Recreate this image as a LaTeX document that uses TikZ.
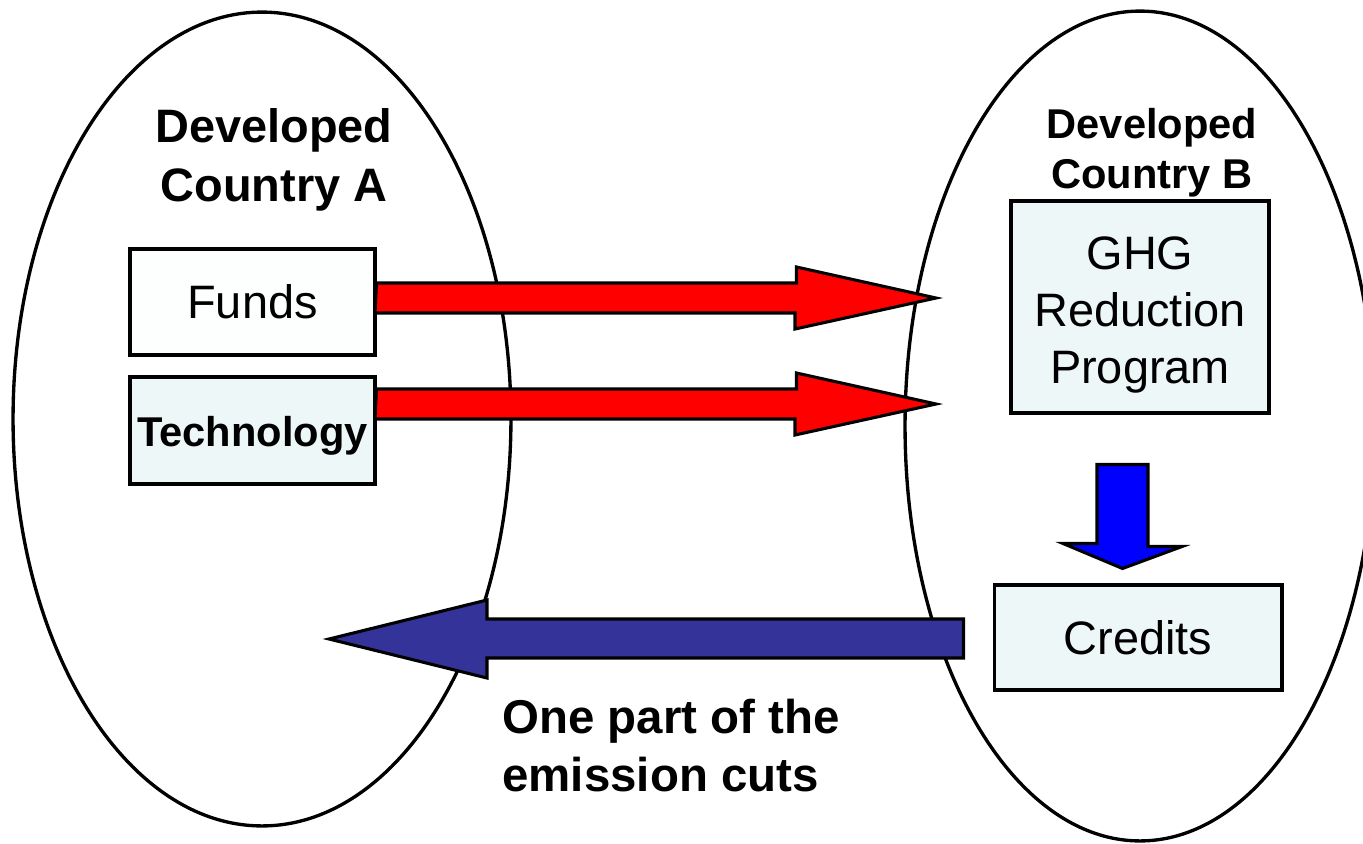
\documentclass[tikz,border=0pt]{standalone}
\usepackage{fontspec}
\setmainfont{Liberation Sans}
\usetikzlibrary{calc}
\definecolor{boxfill}{HTML}{EEF7F7}
\definecolor{whitefill}{HTML}{FDFEFE}
\definecolor{navyarrow}{HTML}{333399}
\definecolor{bluearrow}{HTML}{0000FF}
\begin{document}
\begin{tikzpicture}[x=0.02cm,y=-0.02cm,
  outline/.style={draw=black,line width=1.75pt},
  country/.style={outline,line width=1.9pt},
  box/.style={outline,fill=boxfill,inner sep=0pt,align=center,
    font=\fontsize{26.7}{32.6}\selectfont},
  boxtext/.style={inner sep=0pt,align=center,font=\fontsize{26.7}{32.6}\selectfont},
  redarrow/.style={outline,fill=red},
  navyblock/.style={outline,fill=navyarrow},
  blueblock/.style={outline,fill=bluearrow},
  title/.style={inner sep=0pt,align=center,font=\bfseries\fontsize{26.7}{33.5}\selectfont}]
\useasboundingbox (0,0) rectangle (1363,843);
\clip (0,0) rectangle (1363,843);
% countries
\draw[country] (262,419) ellipse [x radius=4.98cm, y radius=8.14cm];
\draw[country] (1140,426) ellipse [x radius=4.7cm, y radius=8.3cm];
% boxes
\node[box,fill=whitefill,minimum width=4.9cm,minimum height=2.12cm] (funds) at (252.5,302) {Funds};
\node[box,minimum width=4.9cm,minimum height=2.14cm,text height=23pt,text depth=5pt,font=\bfseries\fontsize{23.7}{28}\selectfont] (tech) at (252.5,430.5) {Technology};
\node[box,minimum width=5.16cm,minimum height=4.24cm,
  label={[boxtext,yshift=-0.16cm]center:{GHG\\Reduction\\Program}}] (ghg) at (1140,307) {};
\node[box,minimum width=5.76cm,minimum height=2.1cm] (credits) at (1138,637.5) {Credits};
% labels
\node[title] (ca) at (274,160) {Developed\\Country A};
\node[title,font=\bfseries\fontsize{23.7}{28.4}\selectfont] (cb) at (1152,153) {Developed\\Country B};
\node[title,align=left,anchor=west,font=\bfseries\fontsize{27}{33}\selectfont] (cuts) at (502,746) {One part of the\\emission cuts};
% arrow tips
\coordinate (tipA) at (936,298);
\coordinate (tipB) at (936,404);
\coordinate (tipC) at (329,639);
% red arrows
\draw[redarrow] (funds.east) ++(0,-19) -- ++(420,0) -- ++(0,-16) -- (tipA) -- (795,329) -- ++(0,-16) -- ++(-420,0) -- cycle;
\draw[redarrow] (tech.east) ++(0,-41.5) -- ++(420,0) -- ++(0,-16) -- (tipB) -- (795,435) -- ++(0,-16) -- ++(-420,0) -- cycle;
% blue down arrow between GHG and Credits
\draw[blueblock] ($(ghg.south)+(-43,50)$) -- ++(51,0) -- ++(0,82) -- ++(34,0) -- ($(credits.north)+(-15.5,-15)$) -- ++(-59.5,-25) -- ++(34,0) -- cycle;
% navy arrow back to A
\draw[navyblock] ($(credits.west)+(-29,-18.5)$) -- (487,619) -- (487,600) -- (tipC) -- (487,678) -- (487,658) -- ($(credits.west)+(-29,20.5)$) -- cycle;
\end{tikzpicture}
\end{document}
